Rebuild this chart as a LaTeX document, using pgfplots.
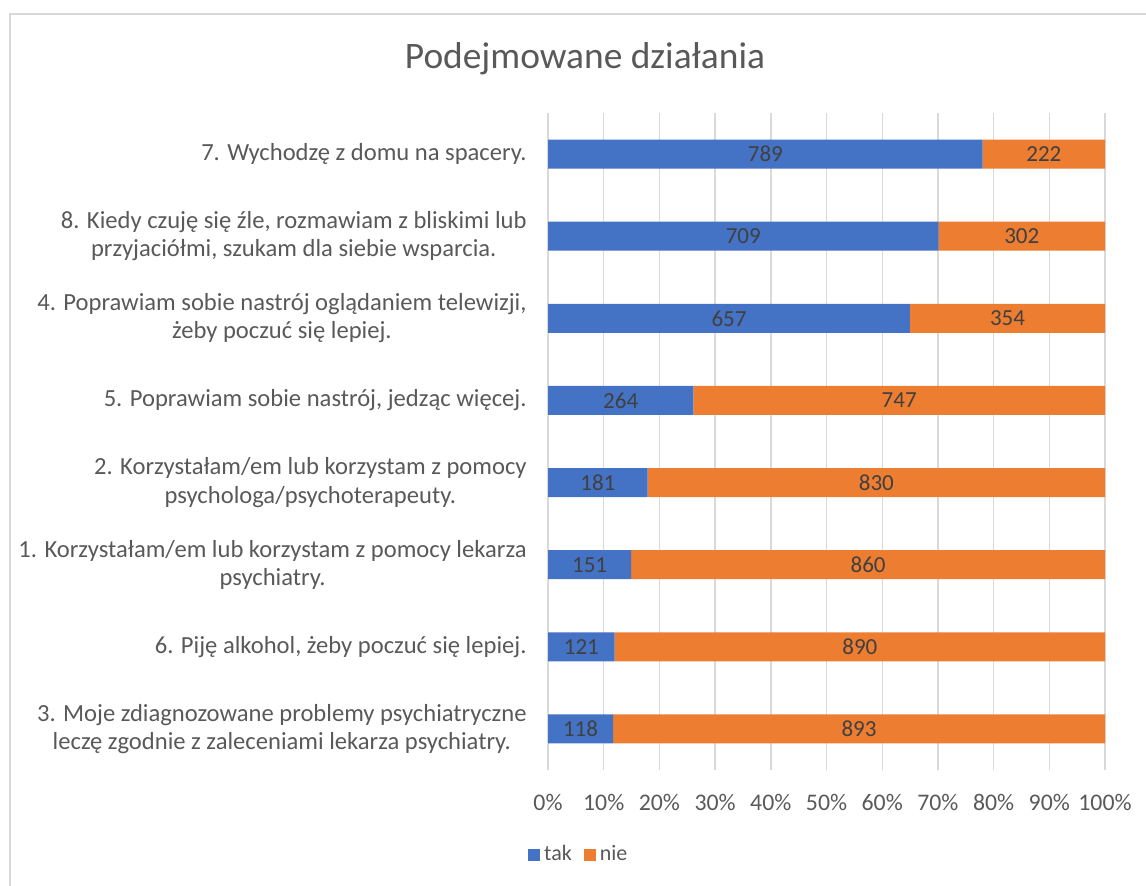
\documentclass[border=0pt]{standalone}
\usepackage{pgfplots}
\pgfplotsset{compat=1.18}
\usepackage{pgfplotstable}
\usepackage{fontspec}
\setmainfont{Carlito}
\definecolor{tblue}{HTML}{4472C4}
\definecolor{torange}{HTML}{ED7D31}
\definecolor{txtgray}{HTML}{595959}
\definecolor{lblgray}{HTML}{404040}
\definecolor{gridgray}{HTML}{D9D9D9}

\pgfplotstableread{
idx tak nie
0 789 222
1 709 302
2 657 354
3 264 747
4 181 830
5 151 860
6 121 890
7 118 893
}\datatable

\begin{document}
\begin{tikzpicture}
\useasboundingbox (0,0) rectangle (573pt,-443pt);
\draw[gridgray, line width=1pt] (4.75pt,-443pt) -- (4.75pt,-7.25pt) -- (573pt,-7.25pt);
\node[text=txtgray, font=\fontsize{18.7}{22}\selectfont] at (292.5pt,-29.5pt) {Podejmowane działania};
\begin{axis}[
  at={(274pt,-385pt)}, anchor=south west,
  scale only axis, width=278.5pt, height=328.5pt,
  xbar stacked, bar width=14.5pt,
  xmin=0, xmax=100, ymin=-0.5, ymax=7.5, y dir=reverse,
  axis line style={draw=none},
  major tick length=0pt,
  xmajorgrids, grid style={gridgray, line width=0.7pt},
  xtick={0,10,20,30,40,50,60,70,80,90,100},
  xticklabels={0\%,10\%,20\%,30\%,40\%,50\%,60\%,70\%,80\%,90\%,100\%},
  xticklabel style={anchor=base, yshift=-20pt, inner sep=0pt, text=txtgray, font=\fontsize{11.9}{14}\selectfont},
  ytick={0,1,2,3,4,5,6,7},
  yticklabels={
    {7. Wychodzę z domu na spacery.},
    {8. Kiedy czuję się źle, rozmawiam z bliskimi lub\\przyjaciółmi, szukam dla siebie wsparcia.},
    {4. Poprawiam sobie nastrój oglądaniem telewizji,\\żeby poczuć się lepiej.},
    {5. Poprawiam sobie nastrój, jedząc więcej.},
    {2. Korzystałam/em lub korzystam z pomocy\\psychologa/psychoterapeuty.},
    {1. Korzystałam/em lub korzystam z pomocy lekarza\\psychiatry.},
    {6. Piję alkohol, żeby poczuć się lepiej.},
    {3. Moje zdiagnozowane problemy psychiatryczne\\leczę zgodnie z zaleceniami lekarza psychiatry.}
  },
  yticklabel style={anchor=east, xshift=-10.5pt, inner sep=0pt, align=center, text=txtgray, font=\fontsize{12.3}{14}\selectfont},
  legend style={at={(0.057,-0.129)}, anchor=center, draw=none, fill=none, legend columns=2,
    font=\fontsize{11}{13}\selectfont, text=txtgray,
    /tikz/every even column/.append style={column sep=4pt}},
  legend image code/.code={\fill[#1] (0pt,-3pt) rectangle (6pt,3pt);},
]
\addplot[fill=tblue, draw=none] table[x expr=\thisrow{tak}/(\thisrow{tak}+\thisrow{nie})*100, y=idx] {\datatable};
\addlegendentry{tak}
\addplot[fill=torange, draw=none] table[x expr=\thisrow{nie}/(\thisrow{tak}+\thisrow{nie})*100, y=idx] {\datatable};
\addlegendentry{nie}
\end{axis}
\begin{axis}[
  at={(274pt,-385pt)}, anchor=south west,
  scale only axis, width=278.5pt, height=328.5pt,
  xmin=0, xmax=100, ymin=-0.5, ymax=7.5, y dir=reverse,
  hide axis,
  nodes near coords style={anchor=center, text=lblgray, font=\fontsize{11.5}{13}\selectfont},
]
\addplot[only marks, mark=none, nodes near coords, point meta=explicit symbolic]
  table[x expr=\thisrow{tak}/(\thisrow{tak}+\thisrow{nie})*50, y=idx, meta=tak] {\datatable};
\addplot[only marks, mark=none, nodes near coords, point meta=explicit symbolic]
  table[x expr=(\thisrow{tak}+0.5*\thisrow{nie})/(\thisrow{tak}+\thisrow{nie})*100, y=idx, meta=nie] {\datatable};
\end{axis}
\end{tikzpicture}
\end{document}
